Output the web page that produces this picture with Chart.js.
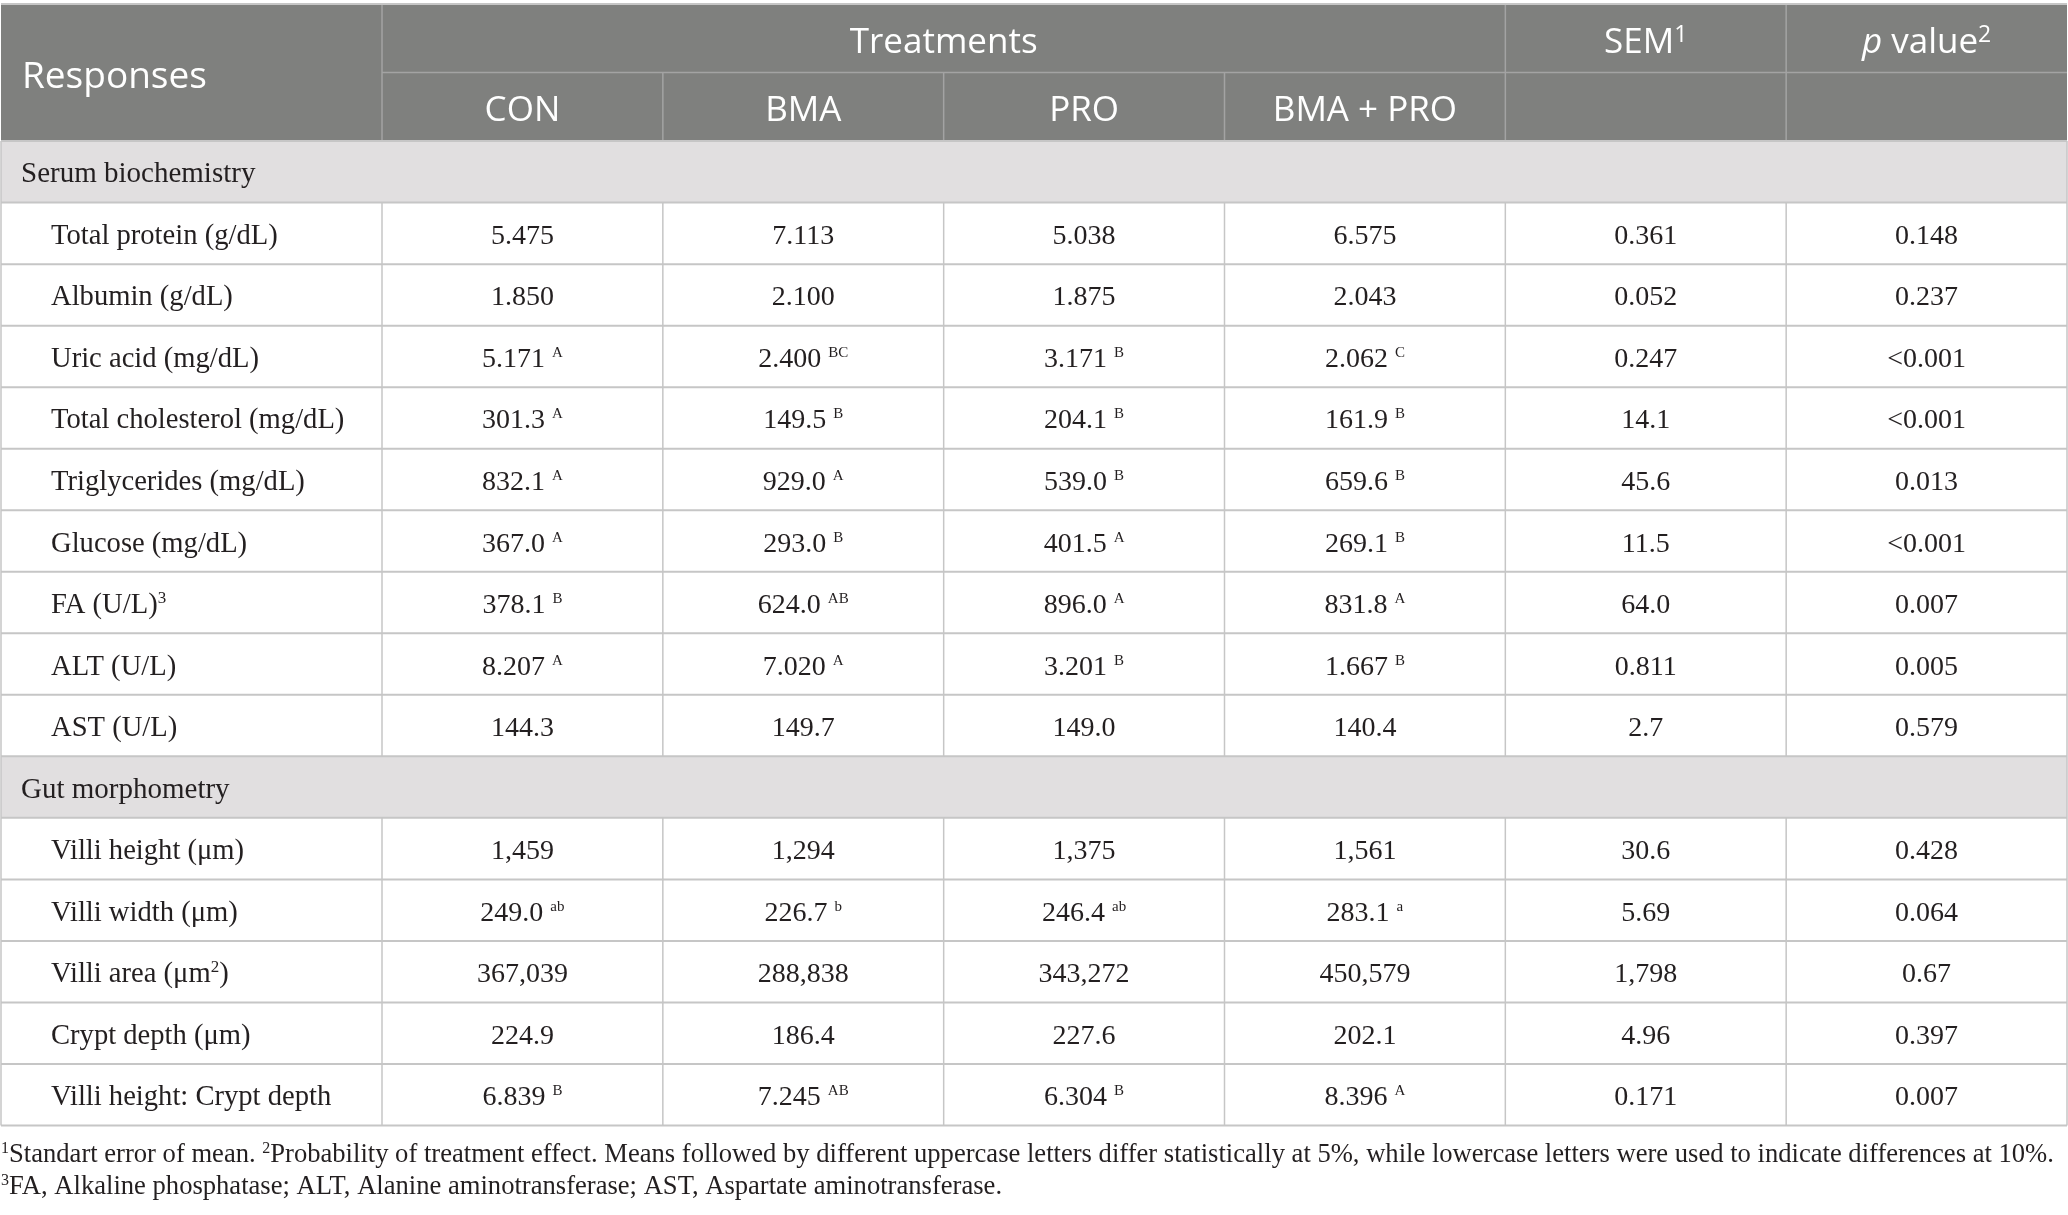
<!DOCTYPE html>
<html>
<head>
<meta charset="utf-8">
<script src="https://cdn.jsdelivr.net/npm/chart.js@4.4.1/dist/chart.umd.min.js"></script>
<style>
  html, body { margin: 0; padding: 0; background: #fff; overflow: hidden; }
  canvas { display: block; }
</style>
</head>
<body>
<canvas id="tableChart" width="2068" height="1215"></canvas>
<script>
// table content
const treatments = ['CON', 'BMA', 'PRO', 'BMA + PRO'];
const groups = ['Serum biochemistry', 'Gut morphometry'];
const groupSizes = [9, 5];

const responses = [
  'Total protein (g/dL)', 'Albumin (g/dL)', 'Uric acid (mg/dL)', 'Total cholesterol (mg/dL)',
  'Triglycerides (mg/dL)', 'Glucose (mg/dL)', 'FA (U/L)', 'ALT (U/L)', 'AST (U/L)',
  'Villi height (\u03bcm)', 'Villi width (\u03bcm)', 'Villi area (\u03bcm', 'Crypt depth (\u03bcm)',
  'Villi height: Crypt depth'
];
const responseSup = ['', '', '', '', '', '', '3', '', '', '', '', '2', '', ''];
const responseTail = ['', '', '', '', '', '', '', '', '', '', '', ')', '', ''];

const con = ['5.475', '1.850', '5.171', '301.3', '832.1', '367.0', '378.1', '8.207', '144.3', '1,459', '249.0', '367,039', '224.9', '6.839'];
const conSig = ['', '', 'A', 'A', 'A', 'A', 'B', 'A', '', '', 'ab', '', '', 'B'];
const bma = ['7.113', '2.100', '2.400', '149.5', '929.0', '293.0', '624.0', '7.020', '149.7', '1,294', '226.7', '288,838', '186.4', '7.245'];
const bmaSig = ['', '', 'BC', 'B', 'A', 'B', 'AB', 'A', '', '', 'b', '', '', 'AB'];
const pro = ['5.038', '1.875', '3.171', '204.1', '539.0', '401.5', '896.0', '3.201', '149.0', '1,375', '246.4', '343,272', '227.6', '6.304'];
const proSig = ['', '', 'B', 'B', 'B', 'A', 'A', 'B', '', '', 'ab', '', '', 'B'];
const bmaPro = ['6.575', '2.043', '2.062', '161.9', '659.6', '269.1', '831.8', '1.667', '140.4', '1,561', '283.1', '450,579', '202.1', '8.396'];
const bmaProSig = ['', '', 'C', 'B', 'B', 'B', 'A', 'B', '', '', 'a', '', '', 'A'];
const sem = ['0.361', '0.052', '0.247', '14.1', '45.6', '11.5', '64.0', '0.811', '2.7', '30.6', '5.69', '1,798', '4.96', '0.171'];
const pValue = ['0.148', '0.237', '<0.001', '<0.001', '0.013', '<0.001', '0.007', '0.005', '0.579', '0.428', '0.064', '0.67', '0.397', '0.007'];

const footnote1 = ['1', 'Standart error of mean. ', '2', 'Probability of treatment effect. Means followed by different uppercase letters differ statistically at 5%, while lowercase letters were used to indicate differences at 10%.'];
const footnote2 = ['3', 'FA, Alkaline phosphatase; ALT, Alanine aminotransferase; AST, Aspartate aminotransferase.'];

// layout (scale units)
const firstColWidth = 1.3567;
const headRowHeight = 1.114;
const nCols = 1 + treatments.length + 2;
const nBodyRows = groups.length + responses.length;
const xMax = firstColWidth + (nCols - 1);
const yMax = 2 * headRowHeight + nBodyRows;

const HEAD_BG = '#7f807e';
const HEAD_LINE = '#a3a3a3';
const GROUP_BG = '#e1dfe0';
const GRID = '#c6c6c6';
const INK = '#231f20';
const SANS = '"Open Sans", "Noto Sans", sans-serif';
const SERIF = '"Liberation Serif", "DejaVu Serif", serif';

function colLeft(i) { return i === 0 ? 0 : firstColWidth + (i - 1); }

// draw a run of text parts, each {t, font, dy, gap}
function drawRuns(ctx, runs, x, y, align, color) {
  let total = 0;
  const widths = runs.map(r => {
    ctx.font = r.font;
    const w = ctx.measureText(r.t).width + (r.gap || 0);
    total += w;
    return w;
  });
  let cx = align === 'center' ? x - total / 2 : x;
  ctx.fillStyle = color;
  ctx.textAlign = 'left';
  ctx.textBaseline = 'alphabetic';
  runs.forEach((r, i) => {
    ctx.font = r.font;
    ctx.fillText(r.t, cx + (r.gap || 0), y + (r.dy || 0));
    cx += widths[i];
  });
}

function valueRuns(val, sig) {
  const runs = [{ t: val, font: '28px ' + SERIF }];
  if (sig) runs.push({ t: sig, font: '15px ' + SERIF, dy: -10, gap: 7 });
  return runs;
}

const tablePlugin = {
  id: 'tablePlugin',
  beforeDatasetsDraw(chart) {
    const ctx = chart.ctx;
    const xs = chart.scales.x, ys = chart.scales.y;
    const X = v => xs.getPixelForValue(v);
    const Y = v => ys.getPixelForValue(v);
    const bodyTop = 2 * headRowHeight;
    const rowY = r => bodyTop + r;

    ctx.save();
    // header background
    ctx.fillStyle = HEAD_BG;
    ctx.fillRect(X(0), Y(0), X(xMax) - X(0), Y(bodyTop) - Y(0));

    // body rows: group bands
    const columns = [con, bma, pro, bmaPro, sem, pValue];
    const sigs = [conSig, bmaSig, proSig, bmaProSig, null, null];
    const bodyRows = [];
    let k = 0;
    groups.forEach((g, gi) => {
      bodyRows.push({ group: g });
      for (let j = 0; j < groupSizes[gi]; j++) bodyRows.push({ idx: k++ });
    });
    bodyRows.forEach((row, r) => {
      if (row.group) {
        ctx.fillStyle = GROUP_BG;
        ctx.fillRect(X(0), Y(rowY(r)), X(xMax) - X(0), Y(rowY(r + 1)) - Y(rowY(r)));
      }
    });

    // header lines
    ctx.strokeStyle = HEAD_LINE;
    ctx.lineWidth = 1.5;
    ctx.beginPath();
    ctx.moveTo(X(colLeft(1)), Y(headRowHeight));
    ctx.lineTo(X(xMax), Y(headRowHeight));
    ctx.moveTo(X(colLeft(1)), Y(0));
    ctx.lineTo(X(colLeft(1)), Y(bodyTop));
    for (let c = 2; c < nCols; c++) {
      const top = c <= treatments.length ? headRowHeight : 0;
      ctx.moveTo(X(colLeft(c)), Y(top));
      ctx.lineTo(X(colLeft(c)), Y(bodyTop));
    }
    ctx.stroke();

    // body grid
    ctx.strokeStyle = GRID;
    ctx.lineWidth = 2;
    ctx.beginPath();
    for (let r = 0; r <= nBodyRows; r++) {
      ctx.moveTo(X(0), Y(rowY(r)));
      ctx.lineTo(X(xMax), Y(rowY(r)));
    }
    ctx.moveTo(X(0), Y(0));
    ctx.lineTo(X(xMax), Y(0));
    ctx.stroke();
    ctx.lineWidth = 1.5;
    ctx.beginPath();
    bodyRows.forEach((row, r) => {
      const cols = row.group ? [0, nCols] : [...Array(nCols + 1).keys()];
      cols.forEach(c => {
        const xv = c === nCols ? xMax : colLeft(c);
        ctx.moveTo(X(xv), Y(rowY(r)));
        ctx.lineTo(X(xv), Y(rowY(r + 1)));
      });
    });
    ctx.stroke();

    // header text
    const headFont = '35px ' + SANS;
    const supFont = '23px ' + SANS;
    const mid1 = (Y(0) + Y(headRowHeight)) / 2;
    const mid2 = (Y(headRowHeight) + Y(bodyTop)) / 2;
    drawRuns(ctx, [{ t: 'Responses', font: '37px ' + SANS }], X(0) + 21, (Y(0) + Y(bodyTop)) / 2 + 15, 'left', '#fff');
    drawRuns(ctx, [{ t: 'Treatments', font: headFont }], (X(colLeft(1)) + X(colLeft(1 + treatments.length))) / 2, mid1 + 14.5, 'center', '#fff');
    treatments.forEach((t, i) => {
      const c = i + 1;
      drawRuns(ctx, [{ t, font: headFont }], (X(colLeft(c)) + X(colLeft(c) + 1)) / 2, mid2 + 14.5, 'center', '#fff');
    });
    const cSem = 1 + treatments.length;
    drawRuns(ctx, [{ t: 'SEM', font: headFont }, { t: '1', font: supFont, dy: -11 }],
      (X(colLeft(cSem)) + X(colLeft(cSem) + 1)) / 2, mid1 + 14.5, 'center', '#fff');
    drawRuns(ctx, [{ t: 'p', font: 'italic ' + headFont }, { t: ' value', font: headFont }, { t: '2', font: supFont, dy: -11 }],
      (X(colLeft(cSem + 1)) + X(colLeft(cSem + 1) + 1)) / 2, mid1 + 14.5, 'center', '#fff');

    // body text
    bodyRows.forEach((row, r) => {
      const yb = (Y(rowY(r)) + Y(rowY(r + 1))) / 2 + 10.5;
      if (row.group) {
        drawRuns(ctx, [{ t: row.group, font: '29px ' + SERIF }], X(0) + 20, yb, 'left', INK);
        return;
      }
      const i = row.idx;
      const label = [{ t: responses[i], font: '28.6px ' + SERIF }];
      if (responseSup[i]) label.push({ t: responseSup[i], font: '17px ' + SERIF, dy: -10 });
      if (responseTail[i]) label.push({ t: responseTail[i], font: '28.6px ' + SERIF });
      drawRuns(ctx, label, X(0) + 50, yb, 'left', INK);
      columns.forEach((col, ci) => {
        const c = ci + 1;
        const cx = (X(colLeft(c)) + X(colLeft(c) + 1)) / 2;
        drawRuns(ctx, valueRuns(col[i], sigs[ci] ? sigs[ci][i] : ''), cx, yb, 'center', INK);
      });
    });

    // footnotes
    const noteFont = '26.6px ' + SERIF;
    const noteSup = '16px ' + SERIF;
    const tableBottom = Y(yMax);
    [footnote1, footnote2].forEach((note, n) => {
      const runs = note.map((t, j) => j % 2 === 0 ? { t, font: noteSup, dy: -9 } : { t, font: noteFont });
      drawRuns(ctx, runs, X(0), tableBottom + 36.5 + n * 31.5, 'left', INK);
    });
    ctx.restore();
  }
};

document.fonts.ready.then(() => {
  const ctx = document.getElementById('tableChart').getContext('2d');
  window.chart = new Chart(ctx, {
    type: 'scatter',
    data: { datasets: [] },
    options: {
      responsive: false,
      animation: false,
      devicePixelRatio: 1,
      layout: { padding: { left: 1, right: 1, top: 4, bottom: 89.5 } },
      plugins: { legend: { display: false }, tooltip: { enabled: false } },
      scales: {
        x: { type: 'linear', min: 0, max: xMax, display: false },
        y: { type: 'linear', min: 0, max: yMax, reverse: true, display: false }
      }
    },
    plugins: [tablePlugin]
  });
});
</script>
</body>
</html>
